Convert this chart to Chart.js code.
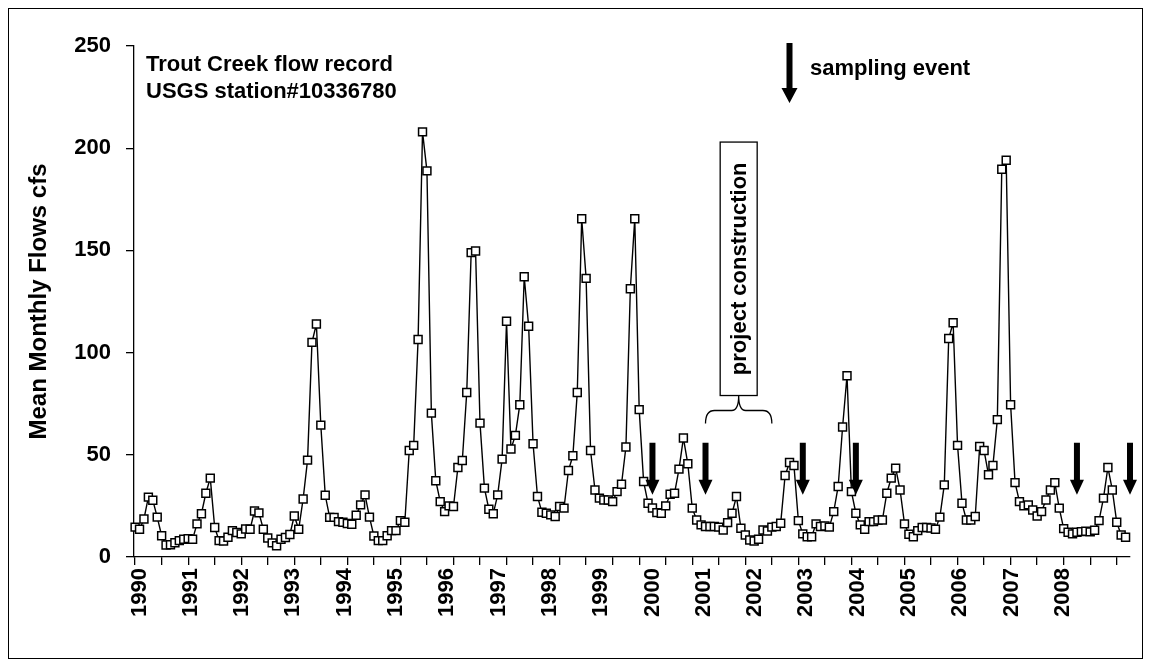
<!DOCTYPE html>
<html>
<head>
  <meta charset="utf-8">
  <title>Trout Creek flow record</title>
  <script src="https://cdn.jsdelivr.net/npm/chart.js"></script>
  <style>
    body { margin: 0; background: #fff; }
    #wrap { position: relative; width: 1151px; height: 667px; }
  </style>
</head>
<body>
  <div id="wrap"><canvas id="flowChart" width="1151" height="667"></canvas></div>

  <script>
    // mean monthly flow in cfs, one value per month, Jan 1990 .. Sep 2008
    const flows = [
      14.6, 13.6, 18.6, 29.3, 27.8, 19.5, 10.4, 5.9, 6.0, 7.0, 8.0, 8.7,
      9.0, 8.7, 16.2, 21.2, 31.2, 38.6, 14.4, 8.0, 7.8, 9.7, 12.9, 12.0,
      11.3, 13.7, 13.6, 22.5, 21.6, 13.6, 9.3, 6.9, 5.5, 8.7, 9.5, 11.0,
      20.1, 13.6, 28.4, 47.4, 105, 114, 64.5, 30.2, 19.4, 19.4, 17.3, 17.0,
      16.4, 16.0, 20.4, 25.5, 30.4, 19.5, 10.3, 8.0, 8.0, 10.4, 12.9, 12.9,
      17.8, 17.0, 52.1, 54.6, 106.4, 208, 188.9, 70.4, 37.3, 27.1, 22.2, 25.0,
      24.7, 43.8, 47.2, 80.5, 148.9, 149.7, 65.5, 33.7, 23.4, 21.2, 30.4, 47.9,
      115.3, 52.8, 59.5, 74.5, 137.1, 112.9, 55.4, 29.6, 21.9, 21.4, 20.6, 19.8,
      24.7, 23.9, 42.3, 49.5, 80.5, 165.5, 136.3, 52.1, 32.8, 28.8, 27.9, 27.9,
      27.1, 32.0, 35.6, 53.8, 131.2, 165.5, 72.1, 36.9, 26.3, 24.0, 21.7, 21.4,
      25.0, 30.7, 31.2, 43.0, 58.2, 45.6, 23.9, 18.1, 15.7, 14.9, 14.9, 14.9,
      14.6, 13.2, 16.8, 21.4, 29.6, 14.1, 10.8, 8.3, 7.8, 8.7, 13.2, 12.7,
      14.6, 14.9, 16.5, 39.9, 46.2, 44.8, 17.8, 11.3, 9.9, 9.9, 16.2, 14.9,
      15.2, 14.6, 22.2, 34.5, 63.6, 88.7, 32.0, 21.4, 15.7, 13.6, 17.3, 17.3,
      18.1, 18.1, 31.2, 38.6, 43.5, 32.8, 16.2, 11.1, 9.9, 12.9, 14.4, 14.4,
      14.2, 13.6, 19.5, 35.3, 106.9, 114.6, 54.6, 26.3, 18.1, 18.1, 19.8, 54.1,
      52.1, 40.2, 44.8, 67.2, 189.7, 194.1, 74.5, 36.4, 27.1, 25.0, 25.5, 23.0,
      20.1, 22.2, 27.9, 32.8, 36.4, 23.9, 13.9, 12.1, 11.3, 12.1, 12.4, 12.6,
      12.3, 13.1, 17.8, 28.8, 43.8, 32.8, 17.0, 10.8, 9.7
    ];

    const yearLabels = ['1990', '1991', '1992', '1993', '1994', '1995', '1996', '1997', '1998', '1999',
                        '2000', '2001', '2002', '2003', '2004', '2005', '2006', '2007', '2008'];
    const yTicks = [0, 50, 100, 150, 200, 250];

    // month index of each sampling trip, and the construction period
    const samplingEvents = [117, 129, 151, 163, 213, 225];
    const construction = [129, 144];

    const FONT = '"Liberation Sans", Arial, sans-serif';
    Chart.defaults.font.family = FONT;
    Chart.defaults.color = '#000';

    function drawArrow(ctx, x, top, tip, shaftHalf, headHalf, headLen) {
      ctx.beginPath();
      ctx.moveTo(x - shaftHalf, top);
      ctx.lineTo(x + shaftHalf, top);
      ctx.lineTo(x + shaftHalf, tip - headLen);
      ctx.lineTo(x + headHalf, tip - headLen);
      ctx.lineTo(x, tip);
      ctx.lineTo(x - headHalf, tip - headLen);
      ctx.lineTo(x - shaftHalf, tip - headLen);
      ctx.closePath();
      ctx.fill();
    }

    const annotations = {
      id: 'annotations',
      beforeDraw(chart) {
        const ctx = chart.ctx;
        ctx.save();
        ctx.fillStyle = '#fff';
        ctx.fillRect(0, 0, chart.width, chart.height);
        ctx.restore();
      },
      afterDatasetsDraw(chart) {
        const { ctx, scales: { x, y } } = chart;
        ctx.save();
        ctx.fillStyle = '#000';
        ctx.strokeStyle = '#000';

        // sampling event arrows
        const tip = y.getPixelForValue(30.5);
        samplingEvents.forEach(m => drawArrow(ctx, x.getPixelForValue(m), tip - 52, tip, 3, 7, 15));

        // construction brace + label box
        const L = x.getPixelForValue(construction[0]);
        const R = x.getPixelForValue(construction[1]);
        const C = (L + R) / 2;
        const boxTop = y.getPixelForValue(203), boxBot = y.getPixelForValue(79);
        const bar = boxBot + 15, ends = boxBot + 28;
        ctx.lineWidth = 1.3;
        ctx.beginPath();
        ctx.moveTo(L, ends);
        ctx.quadraticCurveTo(L, bar, L + 9, bar);
        ctx.lineTo(C - 7, bar);
        ctx.quadraticCurveTo(C, bar, C, boxBot);
        ctx.quadraticCurveTo(C, bar, C + 7, bar);
        ctx.lineTo(R - 9, bar);
        ctx.quadraticCurveTo(R, bar, R, ends);
        ctx.stroke();

        ctx.fillStyle = '#fff';
        ctx.fillRect(C - 18.5, boxTop, 37, boxBot - boxTop);
        ctx.strokeRect(C - 18.5, boxTop, 37, boxBot - boxTop);
        ctx.fillStyle = '#000';
        ctx.font = 'bold 22px ' + FONT;
        ctx.save();
        ctx.translate(C, (boxTop + boxBot) / 2);
        ctx.rotate(-Math.PI / 2);
        ctx.textAlign = 'center';
        ctx.textBaseline = 'middle';
        ctx.fillText('project construction', 0, 1);
        ctx.restore();

        // station caption
        ctx.textAlign = 'left';
        ctx.textBaseline = 'alphabetic';
        ctx.fillText('Trout Creek flow record', 146, 71);
        ctx.fillText('USGS station#10336780', 146, 98);

        // key arrow
        drawArrow(ctx, 789.5, 43, 103, 3, 8, 15);
        ctx.fillText('sampling event', 810, 75);

        // outer frame
        ctx.lineWidth = 1;
        ctx.strokeRect(8.5, 8.5, 1134, 650);
        ctx.restore();
      }
    };

    const ctx = document.getElementById('flowChart').getContext('2d');
    new Chart(ctx, {
      type: 'line',
      data: {
        datasets: [{
          data: flows.map((v, i) => ({ x: i, y: v })),
          borderColor: '#000',
          borderWidth: 1.4,
          pointStyle: 'rect',
          pointRadius: 5.6,
          pointBackgroundColor: '#fff',
          pointBorderColor: '#000',
          pointBorderWidth: 1.5,
          tension: 0,
          clip: false
        }]
      },
      options: {
        responsive: false,
        animation: false,
        events: [],
        layout: { padding: { left: 0, top: 46, right: 21, bottom: 0 } },
        plugins: { legend: { display: false }, tooltip: { enabled: false } },
        scales: {
          x: {
            type: 'linear',
            min: -0.25,
            max: 225,
            afterBuildTicks: s => {
              const t = [];
              for (let m = 0; m <= 222; m += 6) t.push({ value: m, mark: true });
              // year captions sit a little off the half-year marks
              yearLabels.forEach((lbl, k) => t.push({ value: 1.0 + k * 11.6, lbl: lbl }));
              s.ticks = t;
            },
            ticks: {
              autoSkip: false,
              minRotation: 90,
              maxRotation: 90,
              padding: 3,
              font: { size: 22, weight: 'bold' },
              callback: (v, i, ticks) => ticks[i].lbl || ''
            },
            grid: {
              drawOnChartArea: false,
              tickLength: 8,
              lineWidth: 1.3,
              color: c => (c.tick && c.tick.mark) ? '#000' : 'rgba(0,0,0,0)'
            },
            border: { color: '#000', width: 1.3 },
            afterFit: s => { s.height = 110; }
          },
          y: {
            min: 0,
            max: 250,
            afterBuildTicks: s => { s.ticks = yTicks.map(v => ({ value: v })); },
            ticks: { padding: 15, font: { size: 22, weight: 'bold' } },
            grid: { drawOnChartArea: false, tickLength: 8, lineWidth: 1.3, color: '#000' },
            border: { color: '#000', width: 1.3 },
            title: {
              display: true,
              text: 'Mean Monthly Flows cfs',
              font: { size: 24, weight: 'bold' },
              padding: { top: 25, bottom: 0 }
            },
            afterFit: s => { s.width = 134; }
          }
        }
      },
      plugins: [annotations]
    });
  </script>
</body>
</html>
